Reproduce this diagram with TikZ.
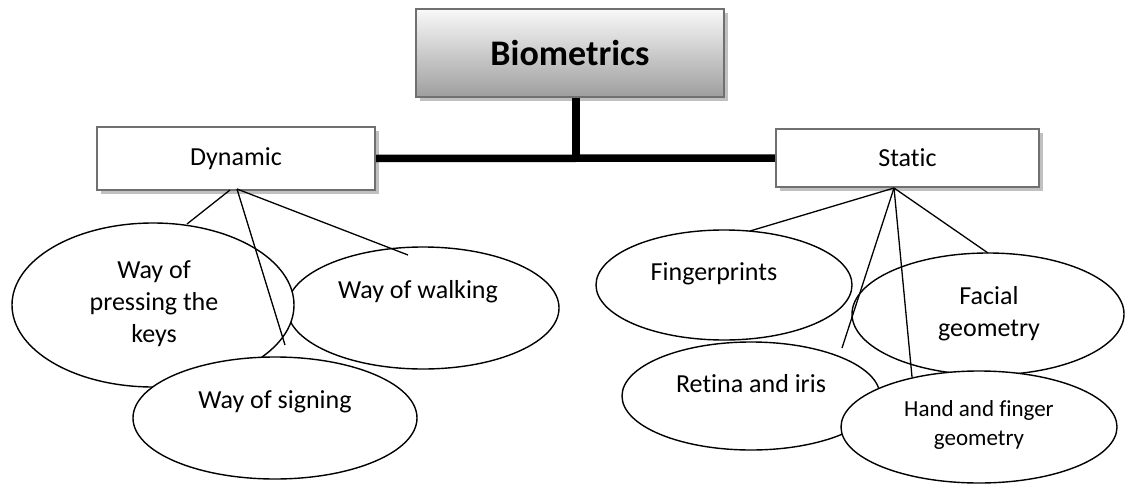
\documentclass[tikz,border=0pt]{standalone}
\usepackage{fontspec}
\setmainfont[Ligatures={NoCommon}]{Carlito}
\usetikzlibrary{shapes.geometric,shadows,calc}
\definecolor{boxline}{HTML}{707070}
\definecolor{shadowgray}{HTML}{C0C0C0}
\tikzset{
  box/.style={rectangle, draw=boxline, line width=2.2pt, fill=white, inner sep=0pt,
    drop shadow={shadow xshift=4pt, shadow yshift=-4pt, fill=shadowgray, opacity=1}},
  oval/.style={ellipse, draw=black, line width=1.4pt, fill=white, inner sep=0pt},
  txt/.style={align=center, inner sep=0pt, font=\fontsize{26}{32}\selectfont},
  smalltxt/.style={align=center, inner sep=0pt, font=\fontsize{23}{29}\selectfont},
  trunk/.style={line width=7.5pt, black},
  link/.style={line width=1.3pt, black}
}
\begin{document}
\begin{tikzpicture}[x=1pt, y=-1pt]
\useasboundingbox (0,0) rectangle (1139,484);
% top box
\node[box, top color=white!95!gray, bottom color=black!38, minimum width=308pt, minimum height=88pt,
  font=\bfseries\fontsize{36}{40}\selectfont] (bio) at (570,53) {Biometrics};
% category boxes
\node[box, minimum width=278pt, minimum height=63pt, font=\fontsize{26}{30}\selectfont] (dyn) at (236,158.5) {Dynamic};
\node[box, minimum width=263pt, minimum height=58pt, font=\fontsize{26}{30}\selectfont] (stat) at (907.5,158) {Static};
% trunk lines
\coordinate (j) at (576,159);
\draw[trunk] (dyn.east) -- (stat.west);
\draw[trunk] (bio.south -| j) -- (j);
% left ellipses
\node[oval, minimum width=272pt, minimum height=122pt] (walk) at (423,308) {};
\node[oval, minimum width=282pt, minimum height=164pt] (press) at (153,305) {};
\node[oval, minimum width=284pt, minimum height=122pt] (sign) at (275,418) {};
% right ellipses
\node[oval, minimum width=256pt, minimum height=110pt] (finger) at (724,285) {};
\node[oval, minimum width=258pt, minimum height=108pt] (retina) at (751,396) {};
\node[oval, minimum width=272pt, minimum height=122pt] (face) at (988,314) {};
\node[oval, minimum width=276pt, minimum height=112pt] (hand) at (979,427) {};
% texts
\node[txt] (tpress) at (154,304) {Way of\\pressing the\\keys};
\node[txt] (twalk) at (418,292) {Way of walking};
\node[txt] (tsign) at (275,402) {Way of signing};
\node[txt] (tfinger) at (714,274) {Fingerprints};
\node[txt] (tface) at (989,314) {Facial\\geometry};
\node[txt] (tretina) at (751,384) {Retina and iris};
\node[smalltxt] (thand) at (979,425) {Hand and finger\\geometry};
% connector points
\coordinate (d1) at (230,190);
\coordinate (d2) at (237,189);
\coordinate (s0) at (894,188);
\coordinate (epress) at (187,224);
\coordinate (esign) at (285,345);
\coordinate (ewalk) at (408,255);
\coordinate (efinger) at (750,231);
\coordinate (eretina) at (842,348);
\coordinate (ehand) at (912,377);
\coordinate (eface) at (988,253);
\draw[link] (d1) -- (epress);
\draw[link] (d2) -- (esign);
\draw[link] (d2) -- (ewalk);
\draw[link] (s0) -- (efinger);
\draw[link] (s0) -- (eretina);
\draw[link] (s0) -- (ehand);
\draw[link] (s0) -- (eface);
\end{tikzpicture}
\end{document}
